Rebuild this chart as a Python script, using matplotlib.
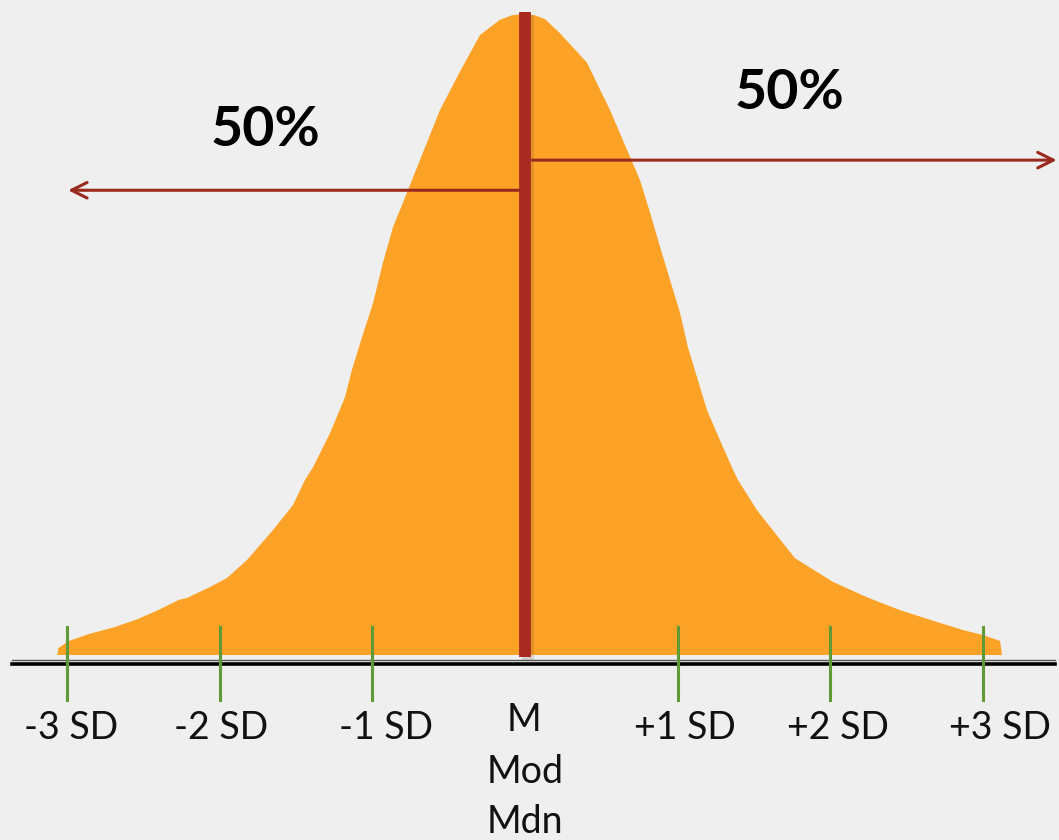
import matplotlib.pyplot as plt

# 曲线轮廓（单位：标准差 / 峰高）
curve_x = [-3.063, -3.055, -2.986, -2.852, -2.694, -2.536, -2.403, -2.266, -2.213, -2.063,
           -1.952, -1.821, -1.650, -1.519, -1.441, -1.388, -1.277, -1.179, -1.133, -1.067,
           -0.995, -0.930, -0.864, -0.819, -0.740, -0.688, -0.557, -0.426, -0.295, -0.164,
           -0.085, -0.020,
           0.065, 0.131, 0.229, 0.406, 0.557, 0.688, 0.753, 0.819, 0.884, 0.950,
           1.015, 1.067, 1.146, 1.192, 1.277, 1.362, 1.395, 1.519, 1.585, 1.768,
           2.017, 2.240, 2.456, 2.718, 2.868, 3.000, 3.111, 3.124]
curve_y = [0.0, 0.011, 0.022, 0.033, 0.043, 0.056, 0.070, 0.086, 0.089, 0.106,
           0.120, 0.148, 0.195, 0.234, 0.273, 0.293, 0.346, 0.402, 0.445, 0.496,
           0.549, 0.612, 0.668, 0.694, 0.741, 0.772, 0.850, 0.910, 0.967, 0.991,
           0.998, 1.0,
           0.998, 0.992, 0.970, 0.924, 0.850, 0.777, 0.741, 0.690, 0.637, 0.585,
           0.534, 0.480, 0.418, 0.382, 0.335, 0.289, 0.273, 0.226, 0.206, 0.151,
           0.114, 0.090, 0.070, 0.050, 0.039, 0.031, 0.022, 0.0]

sd_ticks = [-3, -2, -1, 1, 2, 3]
sd_labels = ["-3 SD", "-2 SD", "-1 SD", "+1 SD", "+2 SD", "+3 SD"]
center_labels = ["M", "Mod", "Mdn"]
pct_text = "50%"

# 标签相对刻度的水平偏移（原图中标签并不正好居中）
label_shift = [0.03, 0.01, 0.09, 0.05, 0.05, 0.11]

orange = "#fca226"
dark_red = "#a82a20"
arrow_red = "#9a2a1e"
green = "#5e9a36"
bg = "#efefef"

plt.rcParams['font.family'] = ['Lato', 'DejaVu Sans']

fig = plt.figure(figsize=(10.59, 8.40), dpi=100, facecolor=bg)
ax = fig.add_axes([0, 0, 1, 1])
ax.set_facecolor(bg)
ax.set_xlim(-3.438, 3.497)
ax.set_ylim(-0.2886, 1.0218)
ax.axis('off')

# 分布曲线
ax.fill(curve_x, curve_y, color=orange, lw=0, zorder=2)

# 基线（双线）
ax.plot([-3.36, 3.47], [-0.008, -0.008], color="#555555", lw=1.0, zorder=3)
ax.plot([-3.36, 3.47], [-0.014, -0.014], color="black", lw=2.6, zorder=3)

# 标准差刻度
for t in sd_ticks:
    ax.plot([t, t], [0.044, -0.070], color=green, lw=2.2, zorder=4)
for t, lab, dx in zip(sd_ticks, sd_labels, label_shift):
    ax.text(t + dx, -0.114, lab, ha='center', va='center', fontsize=27, color='#111111')

# 均值/众数/中位数
ax.text(-0.01, -0.102, center_labels[0], ha='center', va='center', fontsize=27, color='#111111')
ax.text(0.0, -0.183, center_labels[1], ha='center', va='center', fontsize=27, color='#111111')
ax.text(0.0, -0.261, center_labels[2], ha='center', va='center', fontsize=27, color='#111111')

# 中心红线（带阴影）
ax.plot([0.02, 0.02], [0.998, -0.008], color="#6a4a30", lw=8.5, alpha=0.18, zorder=4,
        solid_capstyle='butt')
ax.plot([0, 0], [1.003, -0.003], color=dark_red, lw=8.5, zorder=5, solid_capstyle='butt')

# 左右箭头
ax.annotate("", xy=(-3.01, 0.725), xytext=(-0.02, 0.725),
            arrowprops=dict(arrowstyle="->", color=arrow_red, lw=2.2,
                            mutation_scale=28), zorder=6)
ax.annotate("", xy=(3.50, 0.772), xytext=(0.03, 0.772),
            arrowprops=dict(arrowstyle="->", color=arrow_red, lw=2.2,
                            mutation_scale=28), zorder=6, annotation_clip=False)

ax.text(-1.70, 0.819, pct_text, ha='center', va='center', fontsize=40,
        fontweight='bold', color='black')
ax.text(1.735, 0.877, pct_text, ha='center', va='center', fontsize=40,
        fontweight='bold', color='black')

fig.savefig("out.png", dpi=100, facecolor=bg)
